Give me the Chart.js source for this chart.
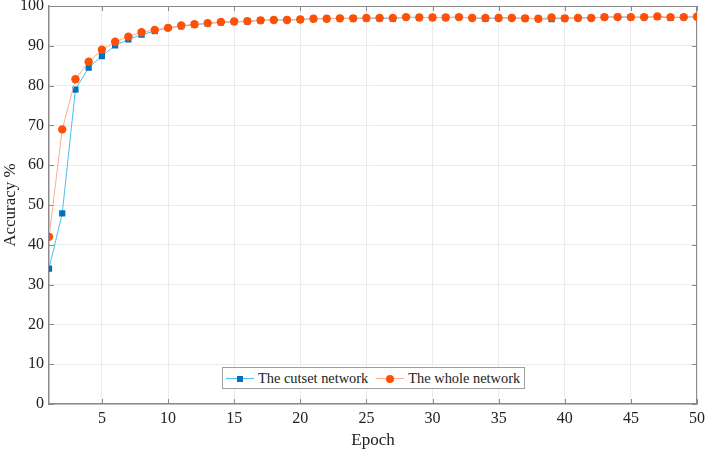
<!DOCTYPE html>
<html>
<head>
<meta charset="utf-8">
<script src="https://cdn.jsdelivr.net/npm/chart.js@4/dist/chart.umd.min.js"></script>
<style>
  body { margin: 0; background: #fff; }
  #wrap { position: relative; width: 706px; height: 450px; }
  #legend {
    position: absolute;
    background: #fff;
    border: 1px solid #a0a0a0;
    font-family: "Liberation Serif", serif;
    font-size: 14.4px;
    color: #222;
    display: flex;
    align-items: center;
    padding: 1px 4px 1px 1px;
    white-space: nowrap;
  }
  .item { display: flex; align-items: center; margin-right: 6px; }
  .item:last-child { margin-right: 0; }
  .swatch { position: relative; width: 32px; height: 18px; margin-right: 2px; }
  .swatch .ln { position: absolute; left: 2px; right: 2px; top: 9px; height: 1px; }
  .swatch .mk { position: absolute; left: 50%; top: 9.5px; transform: translate(-50%, -50%); }
</style>
</head>
<body>
<div id="wrap">
  <canvas id="chart" width="706" height="450"></canvas>
  <div id="legend"></div>
</div>
<script>
var epochs = [];
for (var e = 1; e <= 50; e++) { epochs.push(e); }

var cutsetAcc = [
    34.0, 47.9, 79.0, 84.5, 87.4, 90.1, 91.6, 92.8, 93.7, 94.5,
    94.9, 95.3, 95.6, 95.9, 96.0, 96.1, 96.4, 96.5, 96.5, 96.6,
    96.8, 96.8, 96.9, 96.9, 96.9, 96.9, 96.8, 97.2, 97.1, 97.1,
    97.1, 97.2, 97.0, 96.8, 97.0, 97.0, 96.9, 96.8, 96.7, 96.9,
    97.0, 97.0, 97.2, 97.3, 97.2, 97.2, 97.3, 97.0, 97.2, 97.3
];

var wholeAcc = [
    42.0, 69.0, 81.6, 86.0, 89.0, 91.0, 92.3, 93.4, 94.0, 94.5,
    95.1, 95.4, 95.7, 96.0, 96.1, 96.2, 96.4, 96.5, 96.5, 96.6,
    96.8, 96.8, 96.9, 96.9, 97.0, 97.0, 97.0, 97.2, 97.1, 97.1,
    97.1, 97.2, 97.0, 97.0, 97.0, 97.0, 96.9, 96.8, 97.1, 96.9,
    97.0, 97.0, 97.2, 97.2, 97.2, 97.2, 97.4, 97.2, 97.2, 97.3
];

var seriesNames = ['The cutset network', 'The whole network'];
var xTicks = [5, 10, 15, 20, 25, 30, 35, 40, 45, 50];
var yTicks = [0, 10, 20, 30, 40, 50, 60, 70, 80, 90, 100];

var serif = '"Liberation Serif", "Times New Roman", serif';
var gridColor = '#ebebeb';
var axisColor = '#8a8a8a';

var toPoints = function(values) {
    return values.map(function(v, i) {
        return { x: epochs[i], y: v };
    });
};

// box round the plot, with short inward tick marks on all four sides
var framePlugin = {
    id: 'boxFrame',
    beforeDatasetsDraw: function(chart) {
        var a = chart.chartArea;
        var ctx = chart.ctx;
        var len = 5;
        ctx.save();
        ctx.strokeStyle = axisColor;
        ctx.lineWidth = 1;
        ctx.beginPath();
        ctx.moveTo(a.left, a.top + 0.5);
        ctx.lineTo(a.right - 0.5, a.top + 0.5);
        ctx.lineTo(a.right - 0.5, a.bottom);

        chart.scales.x.ticks.forEach(function(t) {
            var px = Math.round(chart.scales.x.getPixelForValue(t.value)) + 0.5;
            ctx.moveTo(px, a.bottom);
            ctx.lineTo(px, a.bottom - len);
            ctx.moveTo(px, a.top);
            ctx.lineTo(px, a.top + len);
        });
        chart.scales.y.ticks.forEach(function(t) {
            var py = Math.round(chart.scales.y.getPixelForValue(t.value)) + 0.5;
            ctx.moveTo(a.left, py);
            ctx.lineTo(a.left + len, py);
            ctx.moveTo(a.right, py);
            ctx.lineTo(a.right - len, py);
        });
        ctx.stroke();
        ctx.restore();
    }
};

// keeps the HTML legend inside the plot box, bottom centre
var legendPlugin = {
    id: 'innerLegend',
    afterRender: function(chart) {
        var box = document.getElementById('legend');
        var area = chart.chartArea;
        var w = box.offsetWidth, h = box.offsetHeight;
        box.style.left = Math.round((area.left + area.right) / 2 - w / 2) + 'px';
        box.style.top = Math.round(area.bottom - 15 - h) + 'px';
    }
};

var config = {
    type: 'line',
    data: {
        datasets: [{
            label: seriesNames[0],
            data: toPoints(cutsetAcc),
            order: 1, // drawn under the whole network
            borderColor: 'rgb(77, 190, 238)',
            borderWidth: 1,
            pointStyle: 'rect',
            pointRadius: 4.4,
            pointBackgroundColor: 'rgb(0, 114, 189)',
            pointBorderColor: 'rgb(0, 114, 189)',
            pointBorderWidth: 0
        }, {
            label: seriesNames[1],
            data: toPoints(wholeAcc),
            order: 0,
            borderColor: 'rgb(255, 172, 145)',
            borderWidth: 1,
            pointStyle: 'circle',
            pointRadius: 4.2,
            pointBackgroundColor: 'rgb(255, 80, 5)',
            pointBorderColor: 'rgb(255, 80, 5)',
            pointBorderWidth: 0
        }]
    },
    options: {
        responsive: false,
        animation: false,
        layout: { padding: 0 },
        plugins: {
            legend: { display: false },
            tooltip: { enabled: false }
        },
        scales: {
            x: {
                type: 'linear',
                min: 1,
                max: 50,
                afterBuildTicks: function(axis) {
                    axis.ticks = xTicks.map(function(v) { return { value: v }; });
                },
                afterFit: function(axis) {
                    axis.height = 46;
                    axis.paddingLeft = 0;
                    axis.paddingRight = 9;
                },
                grid: { color: gridColor, drawTicks: false },
                border: { color: axisColor, width: 1.5 },
                ticks: {
                    color: '#222',
                    padding: 7,
                    maxRotation: 0,
                    font: { family: serif, size: 16, lineHeight: 1 }
                },
                title: {
                    display: true,
                    text: 'Epoch',
                    color: '#222',
                    padding: { top: 0, bottom: 2 },
                    font: { family: serif, size: 17, lineHeight: 0.9 }
                }
            },
            y: {
                type: 'linear',
                min: 0,
                max: 100,
                afterBuildTicks: function(axis) {
                    axis.ticks = yTicks.map(function(v) { return { value: v }; });
                },
                afterFit: function(axis) {
                    axis.width = 49;
                    axis.paddingTop = 6;
                    axis.paddingBottom = 0;
                },
                grid: { color: gridColor, drawTicks: false },
                border: { color: axisColor, width: 1.5 },
                ticks: {
                    color: '#222',
                    padding: 5,
                    font: { family: serif, size: 16, lineHeight: 1 }
                },
                title: {
                    display: true,
                    text: 'Accuracy %',
                    color: '#222',
                    padding: { top: 0, bottom: 0 },
                    font: { family: serif, size: 17, lineHeight: 1.2 }
                }
            }
        }
    },
    plugins: [framePlugin, legendPlugin]
};

// legend entries built from the datasets
var legendBox = document.getElementById('legend');
config.data.datasets.forEach(function(ds) {
    var item = document.createElement('div');
    item.className = 'item';
    var sw = document.createElement('div');
    sw.className = 'swatch';
    var ln = document.createElement('div');
    ln.className = 'ln';
    ln.style.background = ds.borderColor;
    var mk = document.createElement('div');
    mk.className = 'mk';
    var size = ds.pointStyle === 'rect' ? 6 : 8;
    mk.style.width = size + 'px';
    mk.style.height = size + 'px';
    mk.style.background = ds.pointBackgroundColor;
    if (ds.pointStyle === 'circle') { mk.style.borderRadius = '50%'; }
    sw.appendChild(ln);
    sw.appendChild(mk);
    var txt = document.createElement('span');
    txt.textContent = ds.label;
    item.appendChild(sw);
    item.appendChild(txt);
    legendBox.appendChild(item);
});

var chart = new Chart(document.getElementById('chart').getContext('2d'), config);
</script>
</body>
</html>
